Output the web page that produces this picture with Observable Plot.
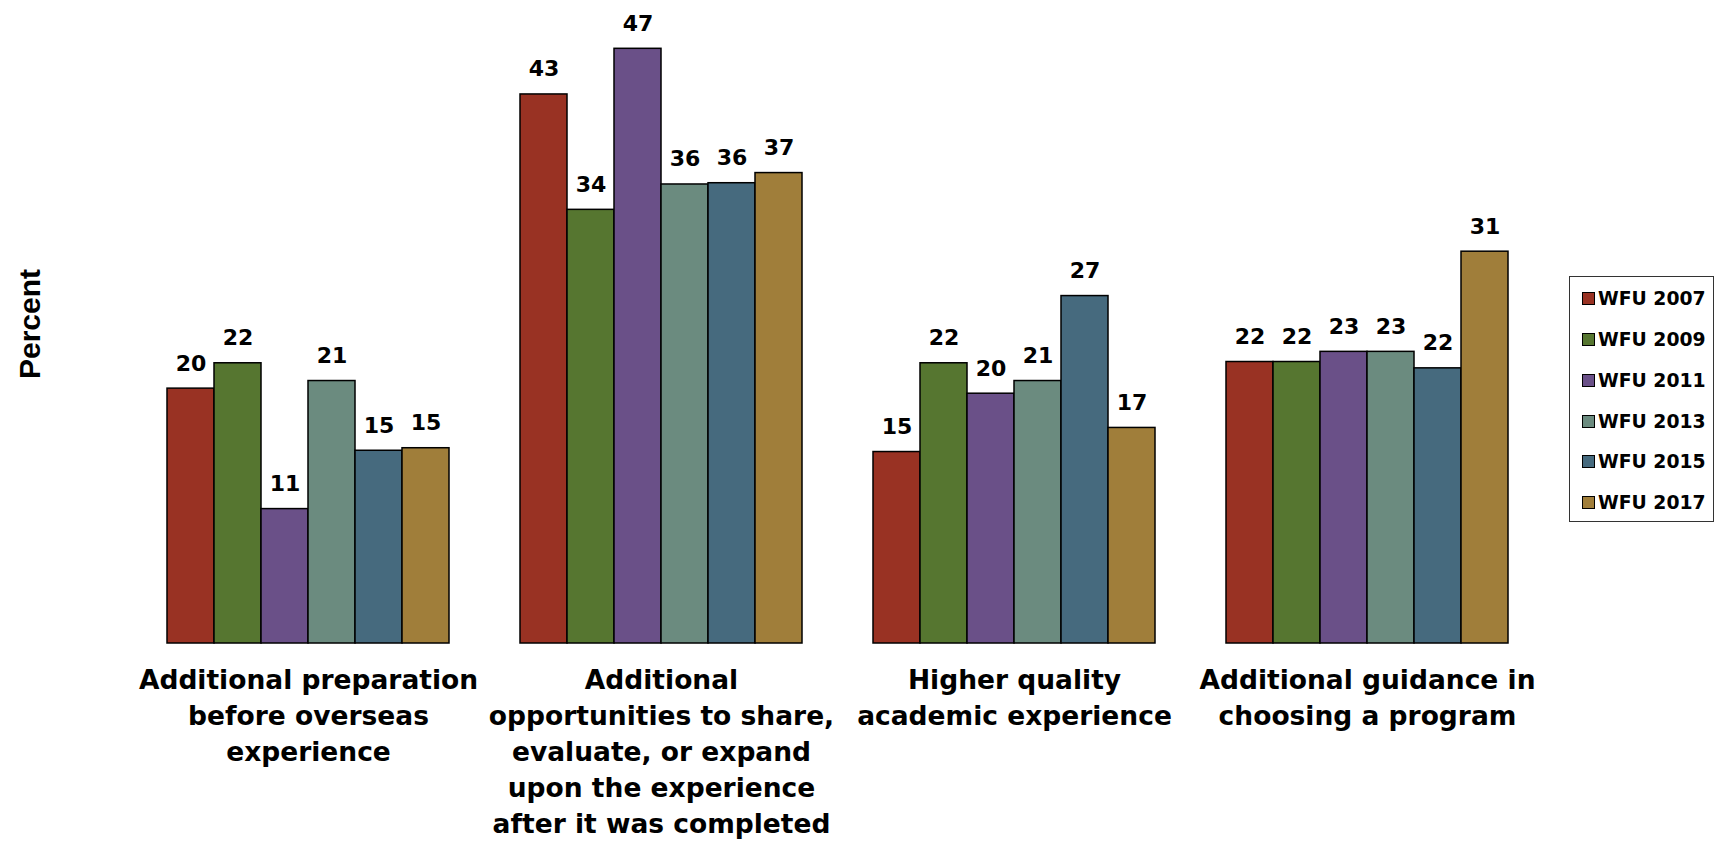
<!DOCTYPE html>
<html><head><meta charset="utf-8">
<script src="https://cdn.jsdelivr.net/npm/d3@7"></script>
<script src="https://cdn.jsdelivr.net/npm/@observablehq/plot@0.6"></script>
<style>
body{margin:0;background:#fff;}
#wrap{position:relative;width:1716px;height:845px;overflow:hidden;font-family:"DejaVu Sans",sans-serif;font-weight:bold;color:#000;}
#ylabel{position:absolute;left:30px;top:324px;transform:translate(-50%,-50%) rotate(-90deg);font-family:"Liberation Sans",Arial,sans-serif;font-size:30px;font-weight:bold;white-space:nowrap;}
#legend{position:absolute;left:1569px;top:276px;width:145px;height:246px;border:1px solid #333;box-sizing:border-box;}
.item{position:absolute;left:12px;height:20px;display:flex;align-items:center;font-size:18.8px;white-space:nowrap;}
.sw{width:11px;height:11px;border:1.5px solid #000;margin-right:3px;flex:none;}
</style></head><body><div id="wrap"><div id="ylabel">Percent</div><div id="legend"></div></div>
<script>
const categories = [
  "Additional preparation\nbefore overseas\nexperience",
  "Additional\nopportunities to share,\nevaluate, or expand\nupon the experience\nafter it was completed",
  "Higher quality\nacademic experience",
  "Additional guidance in\nchoosing a program"
];
const years = ["WFU 2007", "WFU 2009", "WFU 2011", "WFU 2013", "WFU 2015", "WFU 2017"];
const colors = ["#993223", "#567630", "#6A5088", "#6B8B7F", "#466A7E", "#A07E3A"];
const wfu2007 = [20.1, 43.3, 15.1, 22.2];
const wfu2009 = [22.1, 34.2, 22.1, 22.2];
const wfu2011 = [10.6, 46.9, 19.7, 23.0];
const wfu2013 = [20.7, 36.2, 20.7, 23.0];
const wfu2015 = [15.2, 36.3, 27.4, 21.7];
const wfu2017 = [15.4, 37.1, 17.0, 30.9];
const series = [wfu2007, wfu2009, wfu2011, wfu2013, wfu2015, wfu2017];

const data = [];
categories.forEach((c, i) => years.forEach((y, j) => data.push({category: c, year: y, value: series[j][i]})));

const chart = Plot.plot({
  width: 1716,
  height: 845,
  marginLeft: 166,
  marginRight: 206,
  marginTop: 9,
  marginBottom: 202,
  style: {fontFamily: "DejaVu Sans, sans-serif", fontWeight: "bold", background: "transparent"},
  fx: {domain: categories, paddingInner: 0.2, paddingOuter: 0, axis: null, label: null},
  x: {domain: years, padding: 0, axis: null, label: null},
  y: {domain: [0, 50], axis: null, label: null},
  color: {domain: years, range: colors},
  marks: [
    Plot.barY(data, {fx: "category", x: "year", y: "value", fill: "year", stroke: "#000", strokeWidth: 1.5}),
    Plot.text(data, {fx: "category", x: "year", y: "value", text: d => String(Math.round(d.value)),
      lineAnchor: "bottom", dy: -18, fontSize: 22, fontWeight: "bold", fill: "#000"}),
    Plot.text(categories, {fx: d => d, text: d => d, frameAnchor: "bottom", lineAnchor: "top",
      dy: 20, fontSize: 26.5, lineHeight: 1.36, fontWeight: "bold", fill: "#000"})
  ]
});
chart.style.position = "absolute";
chart.style.left = "0";
chart.style.top = "0";
document.getElementById("wrap").prepend(chart);

const legend = document.getElementById("legend");
years.forEach((y, i) => {
  const it = document.createElement("div");
  it.className = "item";
  it.style.top = (297.3 - 276 - 10 + i * 40.9) + "px";
  const sw = document.createElement("span");
  sw.className = "sw";
  sw.style.background = colors[i];
  const t = document.createElement("span");
  t.textContent = y;
  it.appendChild(sw); it.appendChild(t);
  legend.appendChild(it);
});
</script></body></html>
